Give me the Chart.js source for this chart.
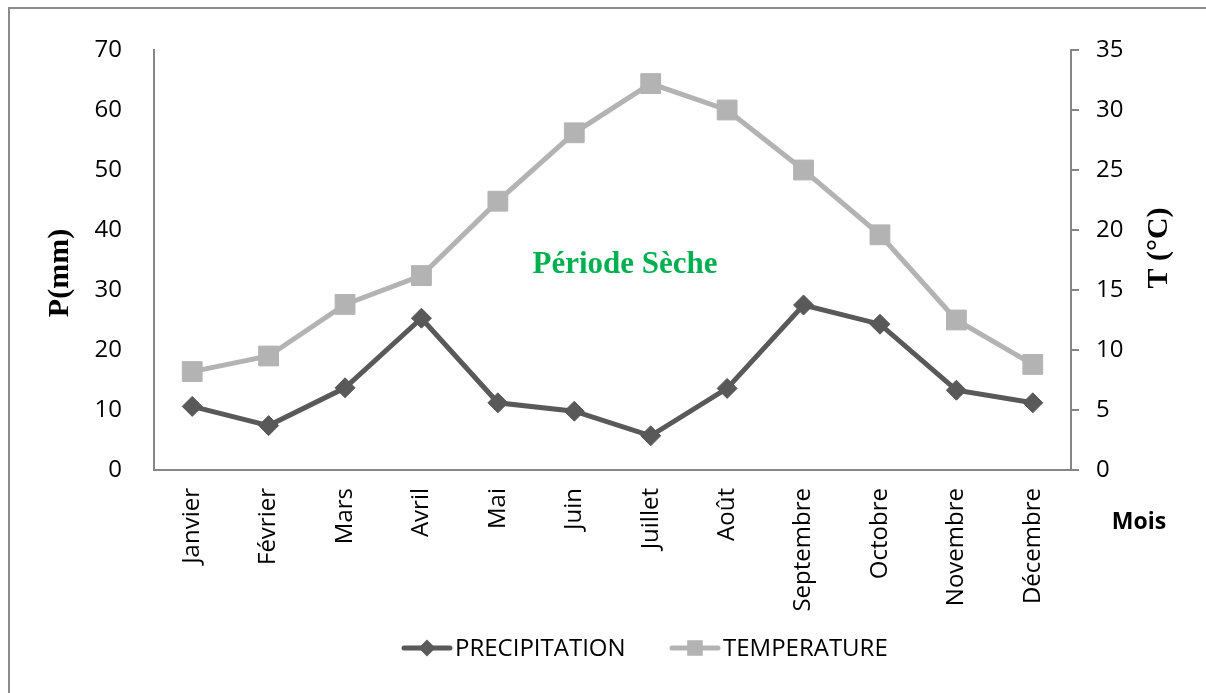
<!DOCTYPE html>
<html lang="fr">
<head>
<meta charset="UTF-8">
<title>Précipitations et températures mensuelles</title>
<script src="https://cdn.jsdelivr.net/npm/chart.js"></script>
<style>
    body { margin: 0; background: #ffffff; }
    .wrap { position: relative; width: 1206px; height: 693px; overflow: hidden; }
    /* cadre gris du graphique (seuls les bords haut et gauche sont visibles) */
    .frame {
        position: absolute; left: 8px; top: 7px; right: -4px; bottom: -4px;
        border-left: 2px solid #8c8c8c; border-top: 2px solid #8c8c8c;
        pointer-events: none;
    }
    canvas { position: absolute; left: 0; top: 0; }
</style>
</head>
<body>
<div class="wrap">
    <div class="frame"></div>
    <canvas id="climChart" width="1206" height="693"></canvas>
</div>

<script>
    // Données
    const mois = ['Janvier', 'Février', 'Mars', 'Avril', 'Mai', 'Juin',
                  'Juillet', 'Août', 'Septembre', 'Octobre', 'Novembre', 'Décembre'];
    const precipitation = [10.6, 7.4, 13.7, 25.3, 11.2, 9.8, 5.7, 13.6, 27.5, 24.3, 13.3, 11.2]; // mm
    const temperature = [8.2, 9.5, 13.8, 16.2, 22.4, 28.1, 32.2, 30.0, 25.0, 19.6, 12.5, 8.8];   // °C
    const pAxis = { min: 0, max: 70, step: 10 };
    const tAxis = { min: 0, max: 35, step: 5 };

    const colP = '#595959';
    const colT = '#b3b3b3';
    const axisGrey = '#868686';
    const sans = "'Open Sans', 'Noto Sans', sans-serif";
    const serif = "'Liberation Serif', 'DejaVu Serif', serif";

    // textes + légende dessinés par-dessus le graphique
    const annotations = {
        id: 'annotations',
        afterDraw(chart) {
            const ctx = chart.ctx;
            const a = chart.chartArea;
            ctx.save();

            // titres des axes
            ctx.fillStyle = '#000';
            ctx.font = 'bold 30px ' + serif;
            ctx.textAlign = 'center';
            ctx.textBaseline = 'middle';
            ctx.save();
            ctx.translate(a.left - 94, a.top + 223);
            ctx.rotate(-Math.PI / 2);
            ctx.fillText('P(mm)', 0, 0);
            ctx.restore();

            ctx.save();
            ctx.translate(a.right + 88, a.top + 198);
            ctx.rotate(-Math.PI / 2);
            ctx.fillText('T (°C)', 0, 0);
            ctx.restore();

            ctx.font = 'bold 23px ' + sans;
            ctx.fillText('Mois', a.right + 68, a.bottom + 52);

            // annotation
            ctx.fillStyle = '#00b050';
            ctx.font = 'bold 31px ' + serif;
            ctx.fillText('Période Sèche', a.left + 471, a.top + 215);

            // légende
            const items = [
                { ds: chart.data.datasets[0], x: a.left + 248, style: 'rectRot', r: 8.5 },
                { ds: chart.data.datasets[1], x: a.left + 516, style: 'rect', r: 11 }
            ];
            const ly = a.bottom + 178;
            items.forEach(it => {
                ctx.strokeStyle = it.ds.borderColor;
                ctx.fillStyle = it.ds.borderColor;
                ctx.lineWidth = 5;
                ctx.lineCap = 'round';
                ctx.beginPath();
                ctx.moveTo(it.x + 2, ly);
                ctx.lineTo(it.x + 48, ly);
                ctx.stroke();
                Chart.helpers.drawPoint(ctx, { pointStyle: it.style, radius: it.r, borderWidth: 0 }, it.x + 25, ly);
                ctx.fillStyle = '#000';
                ctx.font = '24px ' + sans;
                ctx.textAlign = 'left';
                ctx.fillText(it.ds.label, it.x + 53, ly + 1);
            });
            ctx.restore();
        }
    };

    const ctx = document.getElementById('climChart').getContext('2d');
    new Chart(ctx, {
        type: 'line',
        data: {
            labels: mois,
            datasets: [{
                label: 'PRECIPITATION',
                data: precipitation,
                yAxisID: 'yP',
                borderColor: colP,
                backgroundColor: colP,
                borderWidth: 5,
                pointStyle: 'rectRot',
                pointRadius: 10,
                pointBorderWidth: 1,
                pointBackgroundColor: colP,
                pointBorderColor: colP,
                tension: 0
            }, {
                label: 'TEMPERATURE',
                data: temperature,
                yAxisID: 'yT',
                borderColor: colT,
                backgroundColor: colT,
                borderWidth: 5,
                pointStyle: 'rect',
                pointRadius: 14,
                pointBorderWidth: 1,
                pointBackgroundColor: colT,
                pointBorderColor: colT,
                tension: 0
            }]
        },
        options: {
            responsive: false,
            animation: false,
            layout: { padding: { top: 50, left: 0, right: 0, bottom: 0 } },
            plugins: {
                legend: { display: false },
                tooltip: { enabled: false }
            },
            scales: {
                x: {
                    offset: true,
                    grid: { display: false },
                    border: { display: true, color: axisGrey, width: 2 },
                    ticks: {
                        minRotation: 90, maxRotation: 90,
                        autoSkip: false,
                        padding: 10,
                        color: '#000',
                        font: { family: sans, size: 24 }
                    },
                    afterFit: s => { s.height = 223; }
                },
                yP: {
                    position: 'left',
                    min: pAxis.min, max: pAxis.max,
                    grid: { display: false },
                    border: { display: true, color: axisGrey, width: 2 },
                    ticks: {
                        stepSize: pAxis.step,
                        padding: 24,
                        color: '#000',
                        font: { family: sans, size: 24 }
                    },
                    afterFit: s => { s.width = 154; }
                },
                yT: {
                    position: 'right',
                    min: tAxis.min, max: tAxis.max,
                    grid: { drawOnChartArea: false, drawTicks: true, tickLength: 8, color: axisGrey, lineWidth: 2 },
                    border: { display: true, color: axisGrey, width: 2 },
                    ticks: {
                        stepSize: tAxis.step,
                        padding: 17,
                        color: '#000',
                        font: { family: sans, size: 24 }
                    },
                    afterFit: s => { s.width = 135; }
                }
            }
        },
        plugins: [annotations]
    });
</script>
</body>
</html>
